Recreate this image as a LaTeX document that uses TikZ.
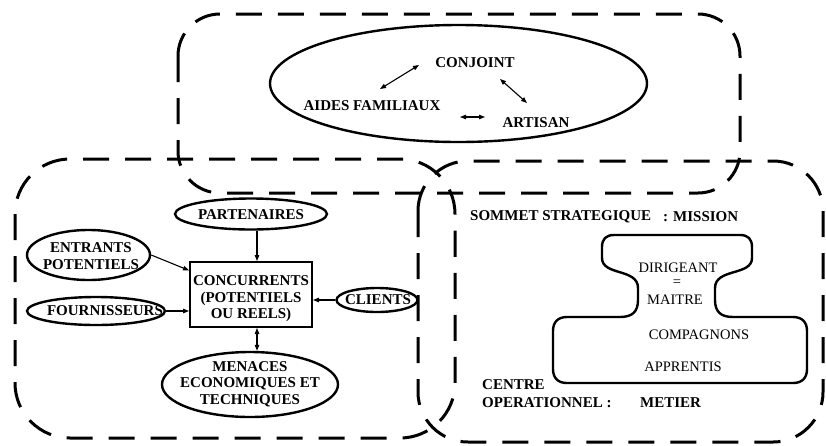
\documentclass[tikz,border=0pt]{standalone}
\usepackage{fontspec}
\setmainfont{Liberation Serif}
\usetikzlibrary{shapes.geometric,arrows.meta,calc}
\begin{document}
\begin{tikzpicture}[x=1pt,y=-1pt,
  zone/.style={line width=3pt, dash pattern=on 26pt off 16pt, rounded corners=#1},
  ell/.style={draw, ellipse, line width=2.4pt, inner sep=0pt},
  rectbox/.style={draw, rectangle, line width=2pt, inner sep=0pt},
  lbl/.style={font=\fontsize{15}{16.5}\selectfont\bfseries, align=center, inner sep=0pt},
  reg/.style={font=\fontsize{14.5}{16}\selectfont, align=center, inner sep=0pt},
  arr/.style={line width=1.1pt, -{Triangle[length=6pt,width=4.5pt]}},
  darr/.style={line width=1.1pt, {Triangle[length=6pt,width=4.5pt]}-{Triangle[length=6pt,width=4.5pt]}},
  bone/.style={line width=2.4pt, line join=round}
]
\useasboundingbox (0,0) rectangle (826,445);

% dashed zones
\draw[zone=42pt] (178,14) rectangle (740,193);
\draw[zone=55pt] (15,159) rectangle (455,438);
\draw[zone=50pt] (418,161) rectangle (823,442);

% top ellipse (family)
\node[ell, minimum width=377pt, minimum height=117pt] (famille) at (458.5,83.5) {};
\node[lbl] (conjoint) at (475,63) {CONJOINT};
\node[lbl] (aides) at (372,106) {AIDES FAMILIAUX};
\node[lbl] (artisan) at (536,123) {ARTISAN};
\coordinate (ac1) at (380,89);
\coordinate (ac2) at (419,65);
\coordinate (ca1) at (500,79);
\coordinate (ca2) at (527,103);
\coordinate (aa1) at (460,117);
\coordinate (aa2) at (485,117);
\draw[darr] (ac1) -- (ac2);
\draw[darr] (ca1) -- (ca2);
\draw[darr] (aa1) -- (aa2);

% left zone (environment)
\node[ell, minimum width=152pt, minimum height=31pt] (part) at (251,214) {};
\node[lbl] (partT) at (251,215) {PARTENAIRES};
\node[ell, minimum width=123pt, minimum height=50pt] (entr) at (88.5,255) {};
\node[lbl] (entrT) at (91,256) {ENTRANTS\\POTENTIELS};
\node[ell, minimum width=138pt, minimum height=28pt] (four) at (96,311) {};
\node[lbl] (fourT) at (105,311) {FOURNISSEURS};
\node[rectbox, minimum width=122pt, minimum height=65pt] (conc) at (251,294.5) {};
\node[lbl] (concT) at (251,299) {CONCURRENTS\\(POTENTIELS\\OU REELS)};
\node[ell, minimum width=81pt, minimum height=24pt] (cli) at (377,300) {};
\node[lbl] (cliT) at (378,300) {CLIENTS};
\node[ell, minimum width=176pt, minimum height=65pt] (men) at (250,384.5) {};
\node[lbl] (menT) at (250,384) {MENACES\\ECONOMIQUES ET\\TECHNIQUES};

\coordinate (ax) at (257,0);
\draw[arr] (part.south -| ax) -- (conc.north -| ax);
\draw[arr] (entr.east) -- ($(conc.north west)!0.14!(conc.south west)$);
\draw[arr] (four.east) -- (conc.west |- four.east);
\draw[arr] (cli.west) -- (conc.east |- cli.west);
\draw[darr] (men.north -| ax) -- (conc.south -| ax);

% right zone (organisation)
\node[lbl, anchor=west] (sommet) at (470,217) {SOMMET STRATEGIQUE};
\node[lbl, anchor=west] (mission) at (663,217) {: MISSION};
\node[lbl, anchor=west] (centre) at (482,385) {CENTRE};
\node[lbl, anchor=west] (operat) at (482,403) {OPERATIONNEL :};
\node[lbl, anchor=west] (metier) at (640,403) {METIER};

\draw[bone] (614,235) -- (740,235) .. controls (748,235) and (752,239) .. (752,247)
  -- (752,258) .. controls (752,276) and (715,268) .. (715,288)
  -- (715,300) .. controls (715,312) and (721,317) .. (733,317)
  -- (793,317) .. controls (802,317) and (807,322) .. (807,331)
  -- (807,369) .. controls (807,378) and (802,383) .. (793,383)
  -- (567,383) .. controls (558,383) and (553,378) .. (553,369)
  -- (553,331) .. controls (553,322) and (558,317) .. (567,317)
  -- (620,317) .. controls (632,317) and (638,312) .. (638,300)
  -- (638,288) .. controls (638,268) and (602,276) .. (602,258)
  -- (602,247) .. controls (602,239) and (606,235) .. (614,235) -- cycle;

\node[reg] (dirig) at (678,268) {DIRIGEANT};
\node[reg] (egal) at (677,283) {=};
\node[reg] (maitre) at (675,300) {MAITRE};
\node[reg] (compa) at (699,335) {COMPAGNONS};
\node[reg] (appr) at (683,367) {APPRENTIS};
\end{tikzpicture}
\end{document}
